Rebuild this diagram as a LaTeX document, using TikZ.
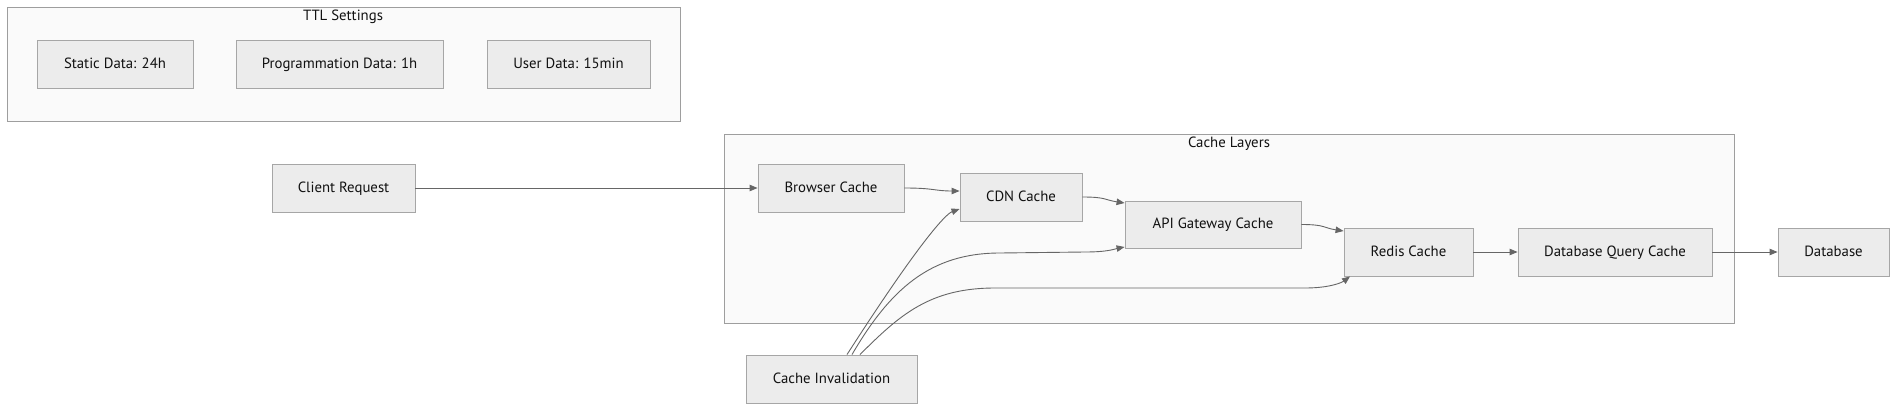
\documentclass[tikz,border=0pt]{standalone}
\usepackage{fontspec}
\setmainfont{PT Sans}
\usetikzlibrary{arrows.meta}
\definecolor{nodefill}{HTML}{ECECEC}
\definecolor{nodestroke}{HTML}{A6A6A6}
\definecolor{clusterfill}{HTML}{FAFAFA}
\definecolor{clusterstroke}{HTML}{9E9E9E}
\definecolor{edgecol}{HTML}{666666}
\definecolor{txt}{HTML}{111111}
\tikzset{
  box/.style={draw=nodestroke, fill=nodefill, line width=0.9pt, inner sep=0pt,
    minimum height=48pt, text height=10.5pt, text depth=2pt,
    font=\fontsize{14.8}{17}\selectfont, text=txt},
  cluster/.style={draw=clusterstroke, fill=clusterfill, line width=0.9pt},
  ctitle/.style={font=\fontsize{14.8}{17}\selectfont, text=txt, inner sep=0pt},
  edge/.style={draw=edgecol, line width=0.9pt, -{Triangle[length=8pt,width=6.5pt]}},
}
\begin{document}
\begin{tikzpicture}[x=1pt,y=-1pt]
\useasboundingbox (0,0) rectangle (1904,412);
% clusters
\draw[cluster] (7,7) rectangle (680,121);
\node[ctitle] (ttltitle) at (343,17) {TTL Settings};
\draw[cluster] (724,134) rectangle (1734,323);
\node[ctitle] (cltitle) at (1229,144) {Cache Layers};
% TTL nodes
\node[box, minimum width=156pt] (static) at (115,64) {Static Data: 24h};
\node[box, minimum width=207pt] (prog) at (339.5,64) {Programmation Data: 1h};
\node[box, minimum width=163pt] (user) at (568.5,64) {User Data: 15min};
% flow nodes
\node[box, minimum width=143pt] (client) at (343.5,188) {Client Request};
\node[box, minimum width=146pt] (browser) at (831,188) {Browser Cache};
\node[box, minimum width=122pt] (cdn) at (1021,197) {CDN Cache};
\node[box, minimum width=176pt, minimum height=47pt] (api) at (1213,224.5) {API Gateway Cache};
\node[box, minimum width=129pt] (redis) at (1408.5,252) {Redis Cache};
\node[box, minimum width=194pt] (dbqc) at (1615,252) {Database Query Cache};
\node[box, minimum width=111pt] (db) at (1833.5,252) {Database};
\node[box, minimum width=171pt] (inval) at (831.5,379) {Cache Invalidation};
% edges
\draw[edge] (client.east) -- (browser.west);
\draw[edge] (browser.east) .. controls ++(30,0) and ++(-25,0) .. ([yshift=6pt]cdn.west);
\draw[edge] (cdn.east) .. controls ++(24,0) and ++(-20,-3) .. ([yshift=21.5pt]api.west);
\draw[edge] (api.east) .. controls ++(24,0) and ++(-20,-3) .. ([yshift=21pt]redis.west);
\draw[edge] (redis.east) -- (dbqc.west);
\draw[edge] (dbqc.east) -- (db.west);
\draw[edge] ([xshift=15.5pt]inval.north) .. controls ++(72,-112) and ++(-14,5) .. ([yshift=-12pt]cdn.west);
\draw[edge] ([xshift=20.5pt]inval.north) .. controls ++(38,-65) and ++(-70,0) .. (1000,253) -- (1085,252) .. controls ++(23,0) and ++(-10,2) .. ([yshift=-22.5pt]api.west);
\draw[edge] ([xshift=28.5pt]inval.north) .. controls ++(40,-40) and ++(-65,0) .. (995,288) -- (1305,288) .. controls ++(25,0) and ++(-8,6) .. ([xshift=-58.5pt]redis.south);
\end{tikzpicture}
\end{document}
